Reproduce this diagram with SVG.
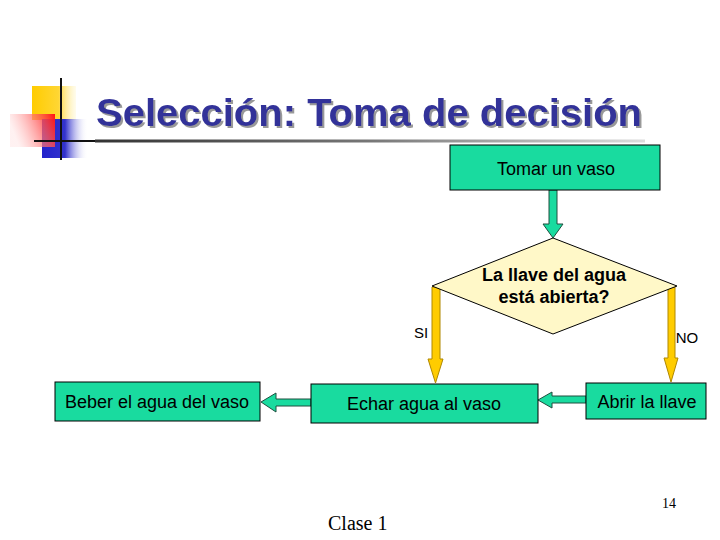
<svg xmlns="http://www.w3.org/2000/svg" width="720" height="540" viewBox="0 0 720 540">
<defs>
<linearGradient id="ul" x1="0" y1="0" x2="1" y2="0"><stop offset="0" stop-color="#333"/><stop offset="0.5" stop-color="#777"/><stop offset="1" stop-color="#ddd"/></linearGradient>
<linearGradient id="yel" x1="0" y1="0" x2="1" y2="0"><stop offset="0" stop-color="#FFCC00"/><stop offset="0.6" stop-color="#FFD633"/><stop offset="1" stop-color="#FFF4C0" stop-opacity="0.3"/></linearGradient>
<linearGradient id="red" x1="1" y1="0" x2="0" y2="0.3"><stop offset="0" stop-color="#FF1010"/><stop offset="1" stop-color="#FFDDDD" stop-opacity="0.4"/></linearGradient>
<linearGradient id="blu" x1="0" y1="0" x2="1" y2="0"><stop offset="0" stop-color="#2222CC"/><stop offset="0.5" stop-color="#3333CC"/><stop offset="1" stop-color="#FFFFFF" stop-opacity="0"/></linearGradient>
<filter id="shadow" x="-5%" y="-20%" width="110%" height="140%"><feDropShadow dx="2" dy="2" stdDeviation="0.5" flood-color="#999999" flood-opacity="1"/></filter>
<style>
.box{fill:#19DB9F;stroke:#000;stroke-width:1}
.lbl{font-family:"Liberation Sans",Arial,sans-serif;font-size:18px;fill:#000;text-anchor:middle}
.bold{font-weight:bold}
.small{font-size:15px}
.garrow{fill:#19DB9F;stroke:#1F4F3F;stroke-width:1}
.yarrow{fill:#FFCC00;stroke:#B08800;stroke-width:1}
</style>
</defs>
<g id="logo">
<rect x="32" y="86" width="44" height="34" fill="url(#yel)"/>
<rect x="42" y="119" width="46" height="39" fill="url(#blu)"/>
<rect x="10" y="114" width="45" height="33" fill="url(#red)"/>
<line x1="61" y1="78" x2="61" y2="160" stroke="#111" stroke-width="2"/>
<line x1="34" y1="141" x2="100" y2="141" stroke="#111" stroke-width="2"/>
<rect x="95" y="139.5" width="550" height="3" fill="url(#ul)"/>
</g>
<g id="title">
<text x="96" y="126" font-family="'Liberation Sans',Arial,sans-serif" font-size="38" font-weight="bold" fill="#333399" filter="url(#shadow)" textLength="546" lengthAdjust="spacingAndGlyphs">Selección: Toma de decisión</text>
</g>
<g id="connectors">
<polygon class="garrow" points="549,190 557,190 557,224 563,224 553,238 543,224 549,224"/>
<polygon class="yarrow" points="432,287 440,287 440,359 443,359 435.5,383 428,359 432,359"/>
<polygon class="yarrow" points="668,287 675,287 675,358 678,358 671,382 664,358 668,358"/>
<polygon class="garrow" points="311,399 276,399 276,393 261,402 276,412 276,406 311,406"/>
<polygon class="garrow" points="586,396 552,396 552,392 538,400 552,408 552,403 586,403"/>
</g>
<g id="tomar">
<rect class="box" x="450" y="145" width="210" height="45"/>
<text class="lbl" x="556" y="175">Tomar un vaso</text>
</g>
<g id="decision">
<polygon points="553,238 677,286 553,334 432,286" fill="#FFF8C8" stroke="#000" stroke-width="1"/>
<text class="lbl bold" x="554" y="281">La llave del agua</text>
<text class="lbl bold" x="554" y="303">está abierta?</text>
</g>
<text class="lbl small" x="421" y="338">SI</text>
<text class="lbl small" x="687" y="343">NO</text>
<g id="beber">
<rect class="box" x="55" y="382" width="205" height="39"/>
<text class="lbl" x="157" y="408">Beber el agua del vaso</text>
</g>
<g id="echar">
<rect class="box" x="311" y="384" width="227" height="39"/>
<text class="lbl" x="424" y="410">Echar agua al vaso</text>
</g>
<g id="abrir">
<rect class="box" x="586" y="383" width="120" height="36"/>
<text class="lbl" x="647" y="408">Abrir la llave</text>
</g>
<text x="669" y="508" font-family="'Liberation Serif','Times New Roman',serif" font-size="14" text-anchor="middle">14</text>
<text x="328" y="530" font-family="'Liberation Serif','Times New Roman',serif" font-size="20">Clase 1</text>
</svg>
